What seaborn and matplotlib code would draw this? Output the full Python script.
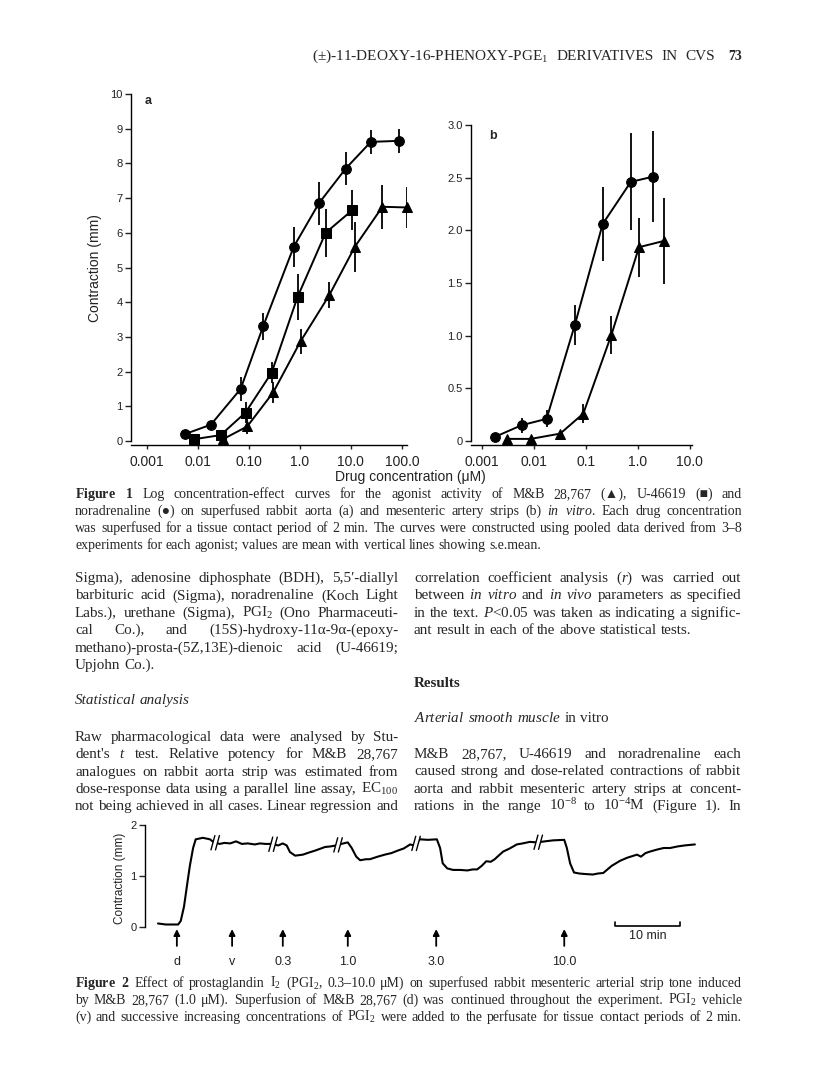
import numpy as np
import pandas as pd
import matplotlib
matplotlib.use('Agg')
import matplotlib.pyplot as plt
import seaborn as sns

W, H = 816, 1091

# Figure 1a - rabbit aorta (conc in uM, contraction in mm, s.e.mean)
na_conc = [0.0056, 0.018, 0.069, 0.19, 0.76, 2.36, 7.9, 24.6, 87]
na_resp = [0.2, 0.47, 1.5, 3.3, 5.6, 6.85, 7.85, 8.62, 8.65]
na_err = [0, 0, 0.35, 0.38, 0.58, 0.62, 0.47, 0.35, 0.35]

u_conc = [0.0083, 0.028, 0.086, 0.28, 0.90, 3.2, 10.6]
u_resp = [0.05, 0.17, 0.82, 1.97, 4.15, 6.0, 6.65]
u_err = [0, 0, 0.29, 0.3, 0.65, 0.7, 0.58]

mb_conc = [0.031, 0.093, 0.30, 1.03, 3.76, 12, 41.5, 126]
mb_resp = [0.05, 0.42, 1.4, 2.87, 4.2, 5.6, 6.75, 6.73]
mb_err = [0, 0.22, 0.3, 0.37, 0.38, 0.72, 0.63, 0.58]

# Figure 1b - mesenteric artery
nb_conc = [0.0018, 0.0058, 0.0175, 0.061, 0.21, 0.73, 1.97]
nb_resp = [0.04, 0.15, 0.21, 1.10, 2.06, 2.46, 2.51]
nb_err = [0, 0.07, 0.08, 0.19, 0.35, 0.46, 0.43]

mbb_conc = [0.0031, 0.0087, 0.032, 0.089, 0.31, 1.05, 3.2]
mbb_resp = [0.02, 0.02, 0.07, 0.26, 1.01, 1.84, 1.90]
mbb_err = [0, 0, 0, 0.09, 0.18, 0.28, 0.41]

xticks_a = [0.001, 0.01, 0.1, 1, 10, 100]
xticklabels_a = ['0.001', '0.01', '0.10', '1.0', '10.0', '100.0']
xticks_b = [0.001, 0.01, 0.1, 1, 10]
xticklabels_b = ['0.001', '0.01', '0.1', '1.0', '10.0']
yticks_b = [0, 0.5, 1.0, 1.5, 2.0, 2.5, 3.0]
yticklabels_b = ['0', '0.5', '1.0', '1.5', '2.0', '2.5', '3.0']

# Figure 2 - tone trace (time in min, contraction in mm)
trace_t = [0.0, 1.2, 3.1, 3.5, 4.0, 4.5, 4.9, 5.4, 5.8, 6.9, 8.0, 8.6, 9.5, 10.2,
           11.1, 12.0, 12.9, 13.8, 14.9, 15.7, 16.5, 17.5, 18.5, 19.2, 19.8, 20.3,
           21.1, 22.3, 23.2, 24.2, 25.7, 26.5, 27.4, 28.2, 29.2, 29.8, 30.5, 31.1,
           32.0, 32.6, 33.8, 34.9, 35.9, 36.9, 37.8, 38.8, 39.4, 40.3, 41.5, 42.9,
           43.4, 43.8, 44.5, 45.4, 46.5, 47.6, 48.4, 49.1, 49.8, 50.5, 51.2, 51.8,
           52.4, 53.1, 54.1, 55.2, 56.1, 57.2, 58.3, 59.5, 60.8, 62.5, 62.9, 63.4,
           64.0, 64.8, 65.7, 66.9, 67.7, 68.5, 69.8, 71.1, 72.2, 73.7, 74.3, 75.0,
           75.7, 76.8, 77.8, 78.8, 79.9, 81.0, 82.6]
trace_v = [0.07, 0.05, 0.05, 0.12, 0.40, 0.85, 1.20, 1.55, 1.72, 1.75, 1.72, 1.66,
           1.63, 1.65, 1.64, 1.68, 1.63, 1.64, 1.62, 1.64, 1.63, 1.63, 1.60, 1.64,
           1.60, 1.47, 1.40, 1.42, 1.46, 1.50, 1.57, 1.58, 1.60, 1.63, 1.66, 1.55,
           1.38, 1.31, 1.33, 1.33, 1.38, 1.42, 1.45, 1.50, 1.54, 1.62, 1.60, 1.72,
           1.71, 1.72, 1.55, 1.25, 1.15, 1.12, 1.12, 1.11, 1.13, 1.13, 1.20, 1.29,
           1.28, 1.33, 1.40, 1.48, 1.54, 1.62, 1.64, 1.67, 1.66, 1.68, 1.70, 1.71,
           1.55, 1.25, 1.07, 1.05, 1.04, 1.03, 1.05, 1.06, 1.20, 1.30, 1.36, 1.42,
           1.38, 1.45, 1.48, 1.52, 1.55, 1.55, 1.58, 1.60, 1.62]
arrow_t = [2.9, 11.4, 19.2, 29.2, 42.8, 62.5]
arrow_labels = ['d', 'v', '0.3', '1.0', '3.0', '10.0']
break_t = [8.8, 17.7, 27.7, 39.7, 58.5]
scale_start, scale_len = 70.3, 10

# page text
header_text = "(±)-11-DEOXY-16-PHENOXY-PGE$_1$ DERIVATIVES IN CVS"
page_no = "73"
cap1_lines = [
    "$\\mathbf{Figure}$ $\\mathbf{1}$ Log concentration-effect curves for the agonist activity of M&B 28,767 (▲), U-46619 (■) and",
    "noradrenaline (●) on superfused rabbit aorta (a) and mesenteric artery strips (b) $\\mathit{in}$ $\\mathit{vitro}$. Each drug concentration",
    "was superfused for a tissue contact period of 2 min. The curves were constructed using pooled data derived from 3–8",
    "experiments for each agonist; values are mean with vertical lines showing s.e.mean.",
]
left_par1 = [
    "Sigma), adenosine diphosphate (BDH), 5,5′-diallyl",
    "barbituric acid (Sigma), noradrenaline (Koch Light",
    "Labs.), urethane (Sigma), PGI$_2$ (Ono Pharmaceuti-",
    "cal Co.), and (15S)-hydroxy-11α-9α-(epoxy-",
    "methano)-prosta-(5Z,13E)-dienoic acid (U-46619;",
    "Upjohn Co.).",
]
stat_head = "Statistical analysis"
left_par2 = [
    "Raw pharmacological data were analysed by Stu-",
    "dent's $\\mathit{t}$ test. Relative potency for M&B 28,767",
    "analogues on rabbit aorta strip was estimated from",
    "dose-response data using a parallel line assay, EC$_{100}$",
    "not being achieved in all cases. Linear regression and",
]
right_par1 = [
    "correlation coefficient analysis ($\\mathit{r}$) was carried out",
    "between $\\mathit{in}$ $\\mathit{vitro}$ and $\\mathit{in}$ $\\mathit{vivo}$ parameters as specified",
    "in the text. $\\mathit{P}$<0.05 was taken as indicating a signific-",
    "ant result in each of the above statistical tests.",
]
results_head = "Results"
sub_head = "$\\mathit{Arterial}$ $\\mathit{smooth}$ $\\mathit{muscle}$ in vitro"
right_par2 = [
    "M&B 28,767, U-46619 and noradrenaline each",
    "caused strong and dose-related contractions of rabbit",
    "aorta and rabbit mesenteric artery strips at concent-",
    "rations in the range 10$^{-8}$ to 10$^{-4}$M (Figure 1). In",
]
cap2_lines = [
    "$\\mathbf{Figure}$ $\\mathbf{2}$ Effect of prostaglandin I$_2$ (PGI$_2$, 0.3–10.0 μM) on superfused rabbit mesenteric arterial strip tone induced",
    "by M&B 28,767 (1.0 μM). Superfusion of M&B 28,767 (d) was continued throughout the experiment. PGI$_2$ vehicle",
    "(v) and successive increasing concentrations of PGI$_2$ were added to the perfusate for tissue contact periods of 2 min.",
]

sns.set_style('ticks')
plt.rcParams['font.family'] = ['Liberation Sans', 'DejaVu Sans']
plt.rcParams.update({
    'mathtext.fontset': 'custom',
    'mathtext.rm': 'Liberation Serif',
    'mathtext.it': 'Liberation Serif:italic',
    'mathtext.bf': 'Liberation Serif:bold',
    'mathtext.default': 'regular',
    'axes.linewidth': 1.0,
    'xtick.color': '#222222',
    'ytick.color': '#222222',
    'axes.edgecolor': 'black',
})
SERIF = ['Liberation Serif', 'DejaVu Serif']
GREY = '#222222'

fig = plt.figure(figsize=(W / 100, H / 100), dpi=100)
renderer = fig.canvas.get_renderer()


def rect(x0, y_top, x1, y_bot):
    return [x0 / W, 1 - y_bot / H, (x1 - x0) / W, (y_bot - y_top) / H]


def conc_panel(ax, groups, xlim, ylim, xt, xtl, yt, ytl, msize):
    ax.set_xscale('log')
    frames = []
    for name, c, r, e in groups:
        frames.append(pd.DataFrame({'conc': c, 'resp': r, 'err': e, 'agonist': name}))
    df = pd.concat(frames, ignore_index=True)
    marks = {'noradrenaline': 'o', 'U-46619': 's', 'M&B 28,767': '^'}
    names = df['agonist'].unique()
    ax.vlines(df['conc'], df['resp'] - df['err'], df['resp'] + df['err'],
              color='black', lw=1.3, zorder=2)
    sns.lineplot(data=df, x='conc', y='resp', hue='agonist', style='agonist',
                 markers={n: marks[n] for n in names}, dashes=False,
                 palette={n: 'black' for n in names}, estimator=None, sort=False,
                 markersize=msize, markeredgecolor='black', linewidth=1.4,
                 legend=False, ax=ax, zorder=3)
    for ln in ax.lines:
        ln.set_clip_on(False)
    ax.set_xlim(*xlim)
    ax.set_ylim(*ylim)
    ax.set_xticks(xt)
    ax.set_xticklabels(xtl, fontsize=8, color=GREY)
    ax.minorticks_off()
    ax.set_yticks(yt)
    ax.set_yticklabels(ytl, fontsize=8, color=GREY)
    ax.tick_params(axis='y', length=4, width=1.0, pad=2)
    ax.tick_params(axis='x', length=3, width=1.0, pad=4)
    ax.set_xlabel('')
    ax.set_ylabel('')
    ax.set_facecolor('none')
    sns.despine(ax=ax)
    ax.spines['bottom'].set_position(('outward', 3))


# Figure 1a
ax_a = fig.add_axes(rect(131, 94, 407, 441))
conc_panel(ax_a,
           [('noradrenaline', na_conc, na_resp, na_err),
            ('U-46619', u_conc, u_resp, u_err),
            ('M&B 28,767', mb_conc, mb_resp, mb_err)],
           (10 ** -3.31, 10 ** 2.10), (0, 10), xticks_a, xticklabels_a,
           list(range(11)), [str(i) for i in range(11)], 7)
ax_a.text(0.05, 0.98, 'a', transform=ax_a.transAxes, fontsize=9,
          fontweight='bold', ha='left', va='center')

# Figure 1b
ax_b = fig.add_axes(rect(471, 125, 692, 441))
conc_panel(ax_b,
           [('noradrenaline', nb_conc, nb_resp, nb_err),
            ('M&B 28,767', mbb_conc, mbb_resp, mbb_err)],
           (10 ** -3.21, 10 ** 1.04), (0, 3), xticks_b, xticklabels_b,
           yticks_b, yticklabels_b, 7)
ax_b.text(0.08, 0.965, 'b', transform=ax_b.transAxes, fontsize=9,
          fontweight='bold', ha='left', va='center')

fig.text(95 / W, 1 - 268 / H, 'Contraction (mm)', rotation=90, fontsize=10,
         color=GREY, ha='center', va='center')
fig.text(410 / W, 1 - 477 / H, 'Drug concentration (μM)', fontsize=10,
         color=GREY, ha='center', va='center')

# Figure 2
ax2 = fig.add_axes(rect(145, 822.5, 704, 975.5))
sns.lineplot(x=trace_t, y=trace_v, ax=ax2, color='black', lw=1.5,
             estimator=None, sort=False)
for tb in break_t:
    yb = np.interp(tb, trace_t, trace_v)
    ax2.plot([tb - 0.3, tb + 0.3], [yb - 0.14, yb + 0.14], color='white', lw=3, zorder=4)
    for d in (-0.35, 0.35):
        ax2.plot([tb - 0.3 + d, tb + 0.3 + d], [yb - 0.14, yb + 0.14],
                 color='black', lw=1.0, zorder=5)
for t, lab in zip(arrow_t, arrow_labels):
    ax2.annotate('', xy=(t, -0.04), xytext=(t, -0.37),
                 arrowprops=dict(arrowstyle='-|>', lw=1.3, color='black',
                                 mutation_scale=9, shrinkA=0, shrinkB=0))
    ax2.text(t, -0.69, lab, ha='center', va='center', fontsize=9, color=GREY)
ax2.plot([scale_start, scale_start, scale_start + scale_len, scale_start + scale_len],
         [0.1, 0.02, 0.02, 0.1], color='black', lw=1.2)
ax2.text(scale_start + scale_len / 2, -0.17, '10 min', ha='center', va='center',
         fontsize=9, color=GREY)
ax2.set_xlim(-2.0, 84)
ax2.set_ylim(-0.95, 2.05)
ax2.set_yticks([0, 1, 2])
ax2.set_yticklabels(['0', '1', '2'], fontsize=8, color=GREY)
ax2.tick_params(axis='y', length=4, width=1.0, pad=2)
ax2.set_xticks([])
ax2.set_facecolor('none')
sns.despine(ax=ax2, bottom=True)
ax2.spines['left'].set_bounds(0, 2)
fig.text(120 / W, 1 - 878 / H, 'Contraction (mm)', rotation=90, fontsize=8.5,
         color=GREY, ha='center', va='center')


# page text, justified word by word
def word_widths(words, size, **kw):
    objs = [fig.text(0, 0, w, fontsize=size, family=SERIF, **kw) for w in words]
    widths = [t.get_window_extent(renderer).width for t in objs]
    for t in objs:
        t.remove()
    return widths


def natural(s, size, **kw):
    words = s.split()
    return sum(word_widths(words, size, **kw)) + size * 100 / 72 * 0.25 * (len(words) - 1)


def fit_size(lines, width, max_size):
    ref = 10.0
    best = max_size
    for s in lines:
        best = min(best, ref * width / natural(s, ref) * 0.995)
    return best


def set_line(s, x0, x1, yb, size, justify=True, **kw):
    words = s.split()
    objs = [fig.text(0, 1 - yb / H, w, fontsize=size, family=SERIF,
                     ha='left', va='baseline', **kw) for w in words]
    widths = [t.get_window_extent(renderer).width for t in objs]
    gap = size * 100 / 72 * 0.25
    if justify and len(objs) > 1:
        gap = (x1 - x0 - sum(widths)) / (len(objs) - 1)
    x = x0
    for t, w in zip(objs, widths):
        t.set_x(x / W)
        x += w + gap


def paragraph(lines, x0, x1, y0, step, size, last_full=False):
    for i, s in enumerate(lines):
        full = last_full or i < len(lines) - 1
        set_line(s, x0, x1, y0 + i * step, size, justify=full)


set_line(header_text, 312, 715, 60, fit_size([header_text], 403, 11))
fig.text(728 / W, 1 - 60 / H, page_no, fontsize=10, family=SERIF,
         fontweight='bold', va='baseline')

cap_size = fit_size(cap1_lines[:3] + cap2_lines, 667, 10)
body_size = fit_size(left_par1[:5] + left_par2 + right_par1[:3] + right_par2, 326, 11)

paragraph(cap1_lines, 75, 742, 498, 17, cap_size)
paragraph(left_par1, 75, 398, 582, 17.4, body_size)
set_line(stat_head, 75, 398, 704, body_size, justify=False, style='italic')
paragraph(left_par2, 75, 398, 741, 17.3, body_size, last_full=True)
paragraph(right_par1, 414, 741, 582, 17.4, body_size)
set_line(results_head, 414, 741, 687, body_size, justify=False, fontweight='bold')
set_line(sub_head, 414, 741, 722, body_size, justify=False)
paragraph(right_par2, 414, 741, 758, 17.3, body_size, last_full=True)
paragraph(cap2_lines, 75, 742, 987, 17, cap_size, last_full=True)

fig.savefig('out.png', dpi=100)
